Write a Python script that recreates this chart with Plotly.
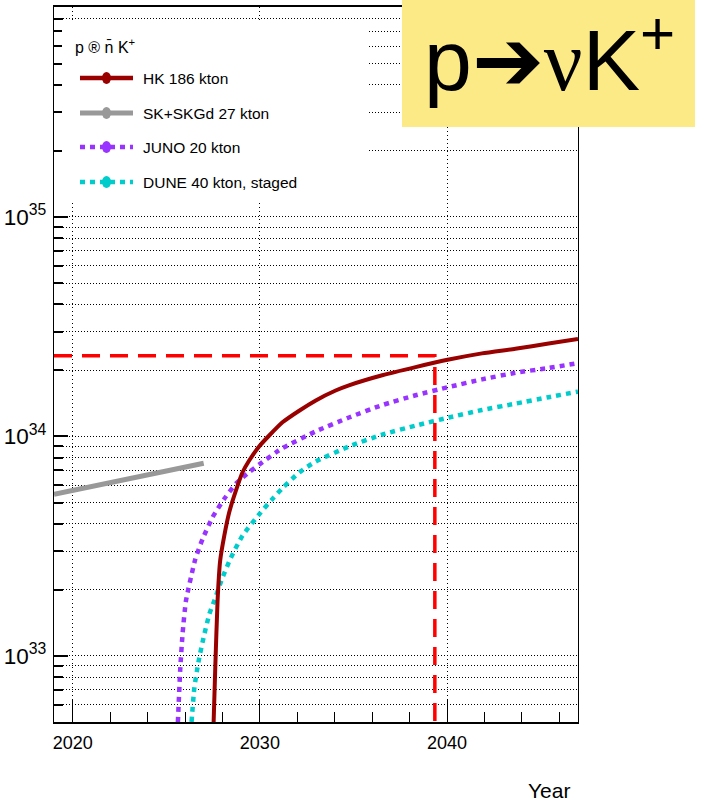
import math
import plotly.graph_objects as go

# ---------------- data ----------------
hk_years = [2027.53, 2027.62, 2027.74, 2027.88, 2028.10, 2028.36, 2028.72, 2029.07,
            2029.43, 2029.96, 2030.50, 2031.21, 2032.10, 2032.99, 2034.05, 2034.76,
            2036.54, 2038.32, 2040.10, 2041.87, 2043.65, 2045.43, 2047.00]
hk_vals = [5.0e32, 9.0e32, 1.78e33, 2.72e33, 3.53e33, 4.5e33, 5.66e33, 6.85e33,
           7.77e33, 9.0e33, 1.01e34, 1.16e34, 1.31e34, 1.46e34, 1.62e34, 1.71e34,
           1.90e34, 2.07e34, 2.24e34, 2.39e34, 2.51e34, 2.65e34, 2.78e34]

sk_years = [2019.0, 2021.0, 2023.0, 2025.0, 2027.0]
sk_vals = [5.45e33, 5.9e33, 6.4e33, 6.9e33, 7.55e33]

juno_years = [2025.62, 2025.75, 2025.87, 2026.05, 2026.55, 2026.94, 2027.47, 2028.10,
              2028.75, 2029.43, 2030.14, 2030.85, 2031.21, 2032.99, 2034.76, 2036.54,
              2038.32, 2040.10, 2041.87, 2043.65, 2045.43, 2047.00]
juno_vals = [5.0e32, 8.85e32, 1.26e33, 1.78e33, 2.76e33, 3.41e33, 4.28e33, 5.2e33,
             6.13e33, 6.88e33, 7.64e33, 8.45e33, 8.85e33, 1.055e34, 1.22e34, 1.39e34,
             1.54e34, 1.68e34, 1.82e34, 1.95e34, 2.05e34, 2.16e34]

dune_years = [2026.35, 2026.50, 2026.73, 2026.99, 2027.30, 2027.56, 2028.00, 2028.45,
              2029.07, 2030.05, 2030.67, 2031.21, 2032.10, 2032.99, 2034.76, 2036.54,
              2038.32, 2040.10, 2041.87, 2043.65, 2045.43, 2047.00]
dune_vals = [5.0e32, 7.17e32, 9.5e32, 1.21e33, 1.55e33, 1.78e33, 2.27e33, 2.80e33,
             3.53e33, 4.51e33, 5.19e33, 5.82e33, 6.85e33, 7.69e33, 9.0e33, 1.02e34,
             1.12e34, 1.22e34, 1.32e34, 1.41e34, 1.51e34, 1.60e34]

ref_years = [2019.0, 2039.35, 2039.35]
ref_vals = [2.33e34, 2.33e34, 5.0e32]

legend_labels = ["HK 186 kton", "SK+SKGd 27 kton", "JUNO 20 kton", "DUNE 40 kton, staged"]
legend_title = "p ® n\u0304 K<sup>+</sup>"
x_range = [2019.0, 2047.0]
y_range = [5.0e32, 9.05e35]

# ---------------- styles ----------------
C_HK = "#990000"
C_SK = "#999999"
C_JUNO = "#9933ff"
C_DUNE = "#00cccc"
C_REF = "#ff0000"
FONT = "Liberation Sans, Arial, sans-serif"

W, H = 702, 808
ML, MR, MT, MB = 54, 124, 7, 86
PW, PH = W - ML - MR, H - MT - MB


def px(xp):
    return (xp - ML) / PW


def py(yp):
    return (H - MB - yp) / PH


fig = go.Figure()
fig.add_trace(go.Scatter(x=sk_years, y=sk_vals, mode="lines", showlegend=False,
                         line=dict(color=C_SK, width=5)))
fig.add_trace(go.Scatter(x=juno_years, y=juno_vals, mode="lines", showlegend=False,
                         line=dict(color=C_JUNO, width=4.5, dash="5px,5px",
                                   shape="spline", smoothing=0.5)))
fig.add_trace(go.Scatter(x=dune_years, y=dune_vals, mode="lines", showlegend=False,
                         line=dict(color=C_DUNE, width=4.5, dash="5px,5px",
                                   shape="spline", smoothing=0.5)))
fig.add_trace(go.Scatter(x=hk_years, y=hk_vals, mode="lines", showlegend=False,
                         line=dict(color=C_HK, width=4, shape="spline", smoothing=0.5)))
fig.add_trace(go.Scatter(x=ref_years, y=ref_vals, mode="lines", showlegend=False,
                         line=dict(color=C_REF, width=3.5, dash="18px,10px")))

shapes = []
annotations = []

# legend box (white, covers gridlines)
shapes.append(dict(type="rect", xref="paper", yref="paper", layer="above",
                   x0=px(62), x1=px(368), y0=py(202), y1=py(22),
                   fillcolor="white", line=dict(width=0)))
annotations.append(dict(xref="paper", yref="paper", x=px(73), y=py(46),
                        xanchor="left", yanchor="middle", showarrow=False,
                        text=legend_title, font=dict(family=FONT, size=16, color="black")))
leg_y = [78, 113, 147, 182]
leg_col = [C_HK, C_SK, C_JUNO, C_DUNE]
leg_dash = ["solid", "solid", "5px,5px", "5px,5px"]
leg_w = [4.5, 5, 4.5, 4.5]
for lab, yy, col, dsh, lw in zip(legend_labels, leg_y, leg_col, leg_dash, leg_w):
    shapes.append(dict(type="line", xref="paper", yref="paper", layer="above",
                       x0=px(80), x1=px(133), y0=py(yy), y1=py(yy),
                       line=dict(color=col, width=lw, dash=dsh)))
    shapes.append(dict(type="circle", xref="paper", yref="paper", layer="above",
                       xsizemode="pixel", ysizemode="pixel",
                       xanchor=px(106.5), yanchor=py(yy),
                       x0=-4.5, x1=4.5, y0=-6, y1=6,
                       fillcolor=col, line=dict(width=0)))
    annotations.append(dict(xref="paper", yref="paper", x=px(141), y=py(yy),
                            xanchor="left", yanchor="middle", showarrow=False,
                            text=lab, font=dict(family=FONT, size=15.5, color="black")))

# yellow title box
shapes.append(dict(type="rect", xref="paper", yref="paper", layer="above",
                   x0=px(402), x1=px(695), y0=py(127), y1=py(0),
                   fillcolor="#fcea87", line=dict(width=0)))
annotations.append(dict(xref="paper", yref="paper", x=px(549), y=py(54),
                        xanchor="center", yanchor="middle", showarrow=False,
                        text="p\u2794<span style=\"font-family:Liberation Serif\">\u03bd</span>K<sup>+</sup>",
                        font=dict(family="Liberation Sans, Arial, sans-serif", size=86, color="black")))

# axis title
annotations.append(dict(xref="paper", yref="paper", x=px(549), y=py(790),
                        xanchor="center", yanchor="middle", showarrow=False,
                        text="Year", font=dict(family=FONT, size=21, color="black")))

fig.update_layout(
    width=W, height=H,
    margin=dict(l=ML, r=MR, t=MT, b=MB, pad=0),
    paper_bgcolor="white", plot_bgcolor="white",
    font=dict(family=FONT, size=18, color="black"),
    showlegend=False,
    shapes=shapes, annotations=annotations,
    xaxis=dict(range=x_range, tick0=2020, dtick=10, ticks="inside", ticklen=22,
               tickwidth=1, tickcolor="black", showline=True, linewidth=2,
               linecolor="black", mirror=True, showgrid=True, gridcolor="black",
               gridwidth=1, griddash="1px,3px", zeroline=False, automargin=False,
               tickfont=dict(family=FONT, size=18), ticklabelstandoff=3,
               minor=dict(dtick=2, tick0=2020, ticks="inside", ticklen=10,
                          tickcolor="black", tickwidth=1, showgrid=False)),
    yaxis=dict(type="log", range=[math.log10(y_range[0]), math.log10(y_range[1])],
               dtick=1, ticks="inside", ticklen=14, tickwidth=1.5, tickcolor="black",
               exponentformat="power", showexponent="all", automargin=False,
               showline=True, linewidth=1, linecolor="black", mirror=True,
               showgrid=True, gridcolor="black", gridwidth=1, griddash="1px,2px",
               zeroline=False, tickfont=dict(family=FONT, size=18), ticklabelstandoff=3,
               minor=dict(dtick="D1", ticks="inside", ticklen=9, tickcolor="black",
                          tickwidth=1.5, showgrid=True, gridcolor="black",
                          gridwidth=1, griddash="1px,2px")),
)

fig.write_html("out.html", config={"displayModeBar": False},
               post_script="document.body.style.margin='0px';")
